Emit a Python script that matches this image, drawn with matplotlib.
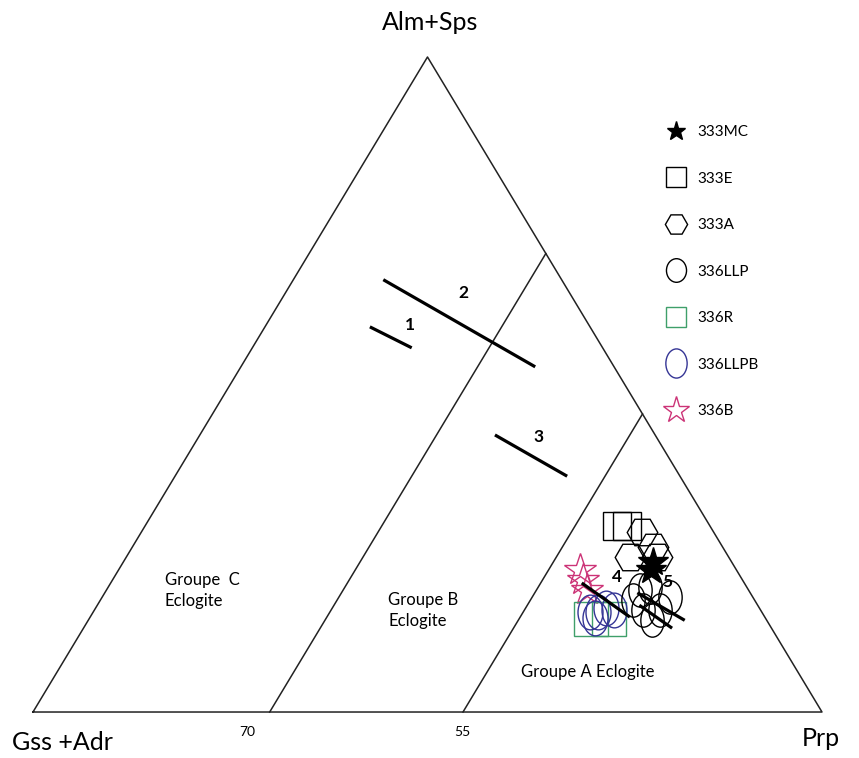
import numpy as np
import matplotlib
matplotlib.use("Agg")
import matplotlib.pyplot as plt
from matplotlib.path import Path
from matplotlib.transforms import Affine2D
from matplotlib.lines import Line2D

plt.rcParams['font.family'] = ['Lato', 'DejaVu Sans']

# compositions as (Prp %, Alm+Sps %); Gss+Adr is what is left
prp_333MC = [67.1, 67.5]
alm_333MC = [22.9, 21.7]
prp_333E = [59.8, 61.1]
alm_333E = [28.4, 28.4]
prp_333A = [63.4, 63.8, 66.0, 67.2]
alm_333A = [27.5, 23.7, 25.2, 23.7]
prp_336LLP = [67.6, 68.7, 71.9, 69.5, 71.7, 71.5, 67.5]
alm_336LLP = [18.6, 19.1, 17.6, 15.6, 15.6, 14.0, 17.1]
prp_336R = [63.6, 65.9]
alm_336R = [14.2, 14.2]
prp_336LLPB = [63.0, 64.0, 64.7, 65.8, 64.0]
alm_336LLPB = [15.3, 15.3, 15.9, 15.6, 14.4]
prp_336B = [58.5, 59.6, 60.9]
alm_336B = [21.7, 20.2, 18.6]

# field boundaries (Prp %) and their labels on the base
bounds = [30.0, 54.5]
bound_labels = ["70", "55"]

# trend lines 1-5, start and end points
line_prp = [[13.3, 20.2], [11.4, 37.3], [37.4, 49.7], [59.7, 68.4], [67.5, 75.6], [68.7, 74.6]]
line_alm = [[58.8, 55.6], [66.0, 52.7], [42.3, 36.0], [19.7, 14.5], [18.2, 14.0], [16.3, 12.8]]


def tern(prp, alm):
    prp = np.asarray(prp, dtype=float) / 100
    alm = np.asarray(alm, dtype=float) / 100
    return prp + alm / 2, alm


def ellipse(ratio):
    return Path.unit_circle().transformed(Affine2D().scale(ratio, 1.0))


fig = plt.figure(figsize=(8.59, 7.58), dpi=100)
ax = fig.add_axes([0, 0, 1, 1])
ax.set_xlim(-0.0418, 1.0469)
ax.set_ylim(-0.0702, 1.0870)
ax.axis('off')

# triangle and boundaries
tx, ty = tern([0, 100, 0, 0], [0, 0, 100, 0])
ax.plot(tx, ty, color='#222222', lw=1.1)
for b in bounds:
    bx, by = tern([b, b], [0, 100 - b])
    ax.plot(bx, by, color='#222222', lw=1.1)

for p, a in zip(line_prp, line_alm):
    lx, ly = tern(p, a)
    ax.plot(lx, ly, color='black', lw=2.3, solid_capstyle='butt', zorder=5)

num_pos = {"1": (18.2, 59.1), "2": (22.5, 64.0), "3": (43.1, 42.0), "4": (63.7, 20.6), "5": (70.5, 19.9)}
for k, (p, a) in num_pos.items():
    x, y = tern(p, a)
    ax.text(x, y, k, fontsize=12.5, fontweight='bold', ha='center', va='center', zorder=6)

blue = '#353595'
green = '#3f9f6a'
pink = '#cc3377'

ax.plot(*tern(prp_336B, alm_336B), ls='none', marker='*', ms=24, mfc='none', mec=pink, mew=1.0)
ax.plot(*tern(prp_336R, alm_336R), ls='none', marker='s', ms=24, mfc='none', mec=green, mew=1.0)
ax.plot(*tern(prp_336LLPB, alm_336LLPB), ls='none', marker=ellipse(0.72), ms=25, mfc='none', mec=blue, mew=1.0)
ax.plot(*tern(prp_336LLP, alm_336LLP), ls='none', marker=ellipse(0.7), ms=24, mfc='none', mec='black', mew=1.0)
ax.plot(*tern(prp_333E, alm_333E), ls='none', marker='s', ms=20.5, mfc='none', mec='black', mew=1.0)
ax.plot(*tern(prp_333A, alm_333A), ls='none', marker='H', ms=22, mfc='none', mec='black', mew=1.0)
ax.plot(*tern(prp_333MC, alm_333MC), ls='none', marker='*', ms=22, mfc='black', mec='black', mew=1.0)

# text
ax.text(0.503, 1.053, "Alm+Sps", fontsize=18, ha='center', va='center')
ax.text(-0.0266, -0.0458, "Gss +Adr", fontsize=18, ha='left', va='center')
ax.text(0.999, -0.0397, "Prp", fontsize=18, ha='center', va='center')
ax.text(0.271, -0.0305, bound_labels[0], fontsize=10, ha='center', va='center')
ax.text(0.544, -0.0305, bound_labels[1], fontsize=10, ha='center', va='center')
ax.text(0.167, 0.185, "Groupe  C\nEclogite", fontsize=12, ha='left', va='center', linespacing=1.4)
ax.text(0.450, 0.155, "Groupe B\nEclogite", fontsize=12, ha='left', va='center', linespacing=1.4)
ax.text(0.703, 0.061, "Groupe A Eclogite", fontsize=12, ha='center', va='center')

handles = [
    Line2D([], [], ls='none', marker='*', ms=14, mfc='black', mec='black'),
    Line2D([], [], ls='none', marker='s', ms=14.5, mfc='none', mec='black', mew=1.0),
    Line2D([], [], ls='none', marker='H', ms=16, mfc='none', mec='black', mew=1.0),
    Line2D([], [], ls='none', marker=ellipse(0.85), ms=17, mfc='none', mec='black', mew=1.0),
    Line2D([], [], ls='none', marker='s', ms=15, mfc='none', mec=green, mew=1.0),
    Line2D([], [], ls='none', marker=ellipse(0.73), ms=21, mfc='none', mec=blue, mew=1.0),
    Line2D([], [], ls='none', marker='*', ms=20, mfc='none', mec=pink, mew=1.0),
]
labels = ["333MC", "333E", "333A", "336LLP", "336R", "336LLPB", "336B"]
ax.legend(handles, labels, loc='upper left', bbox_to_anchor=(666 / 859, 1 - 125 / 758),
          frameon=False, fontsize=11, handlelength=1.3, handletextpad=0.72,
          labelspacing=2.13, borderpad=0, borderaxespad=0)

fig.savefig("out.png", dpi=100)
